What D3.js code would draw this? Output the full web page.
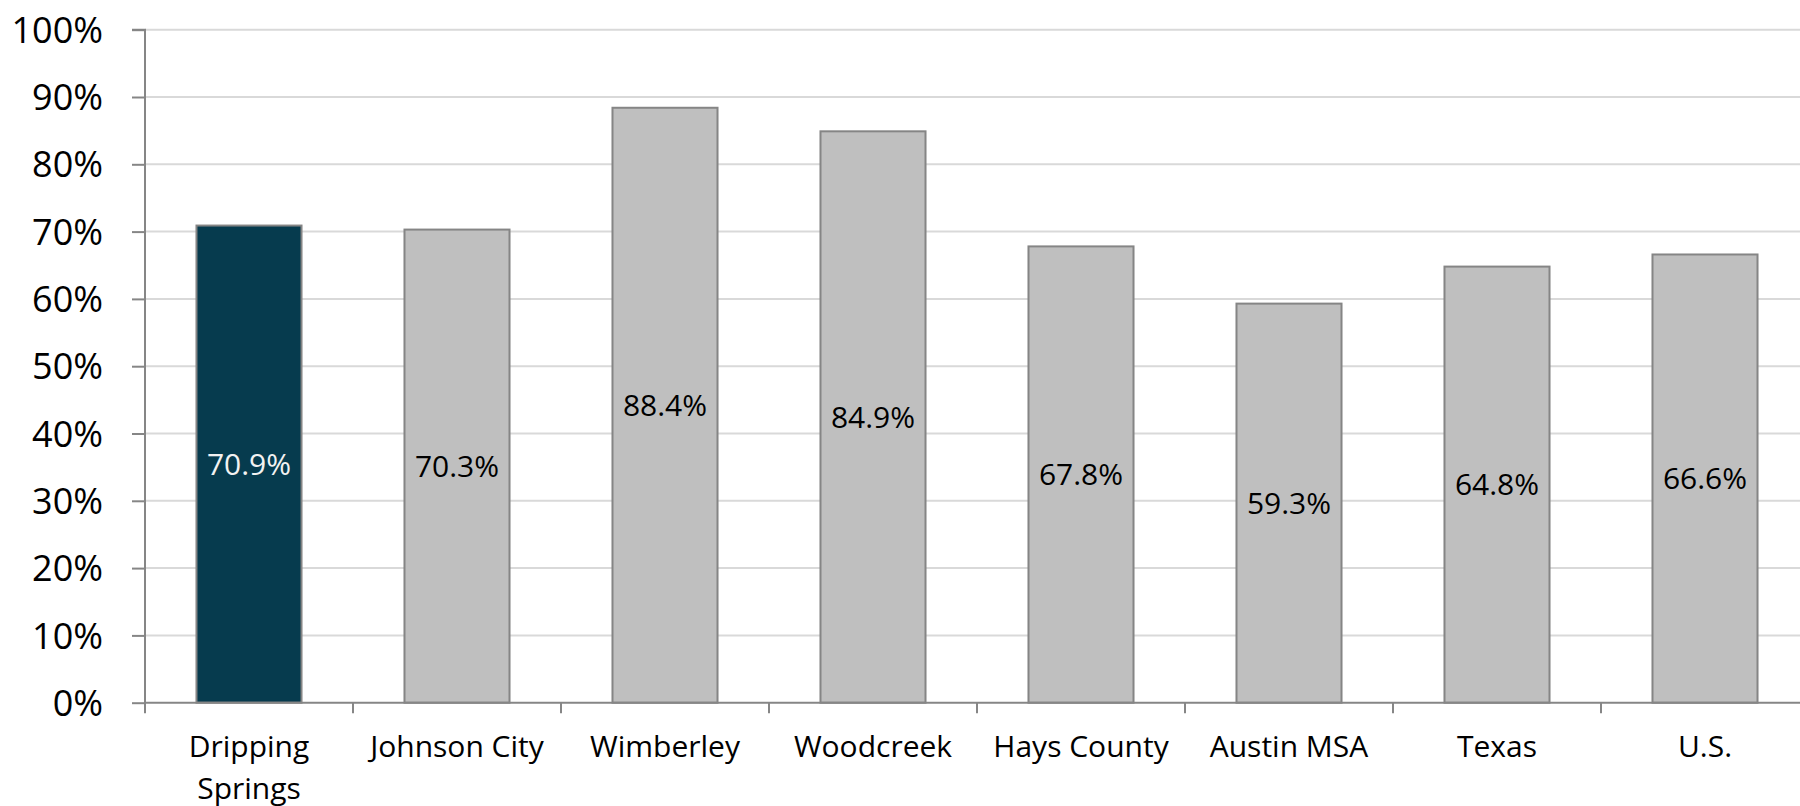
<!DOCTYPE html>
<html><head><meta charset="utf-8">
<script src="https://cdn.jsdelivr.net/npm/d3@7"></script>
<style>html,body{margin:0;padding:0;background:#fff;overflow:hidden}svg{display:block}</style>
</head><body>
<svg id="chart" width="1800" height="806"></svg>
<script>
const categories = ["Dripping Springs","Johnson City","Wimberley","Woodcreek","Hays County","Austin MSA","Texas","U.S."];
const categoryLines = [["Dripping","Springs"],["Johnson City"],["Wimberley"],["Woodcreek"],["Hays County"],["Austin MSA"],["Texas"],["U.S."]];
const values = [70.9, 70.3, 88.4, 84.9, 67.8, 59.3, 64.8, 66.6];
const yTicks = [0,10,20,30,40,50,60,70,80,90,100];
const highlight = "Dripping Springs";

const svg = d3.select("#chart");
const font = "'Open Sans', sans-serif";
const x = d3.scaleBand().domain(categories).range([145, 1809]).paddingInner(0.495).paddingOuter(0.2475);
const y = d3.scaleLinear().domain([0,100]).range([702.7, 29.7]);

// gridlines
svg.append("g").selectAll("line").data(yTicks.filter(d=>d>0)).join("line")
  .attr("x1",145).attr("x2",1800).attr("y1",d=>y(d)).attr("y2",d=>y(d))
  .attr("stroke","#d9d9d9").attr("stroke-width",2);

// bars
svg.append("g").selectAll("rect").data(categories).join("rect")
  .attr("x",d=>x(d)).attr("width",x.bandwidth())
  .attr("y",(d,i)=>y(values[i])).attr("height",(d,i)=>y(0)-y(values[i]))
  .attr("fill",d=>d===highlight?"#063b4e":"#bfbfbf")
  .attr("stroke","#858585").attr("stroke-width",2);

// y axis
const yAxis = d3.axisLeft(y).tickValues(yTicks).tickFormat(d=>d+"%").tickSize(13).tickPadding(29);
const ya = svg.append("g").attr("transform","translate(145,0)").call(yAxis);
ya.select(".domain").attr("stroke","#868686").attr("stroke-width",2).attr("d","M-13,29.7H0V713");
ya.selectAll(".tick line").attr("stroke","#868686").attr("stroke-width",2);
ya.selectAll(".tick text").attr("font-family",font).attr("font-size",36).attr("fill","#000").attr("dy","0.35em");

// x axis
const xa = svg.append("g").attr("transform",`translate(0,${y(0)})`);
xa.append("line").attr("x1",145).attr("x2",1800).attr("y1",0).attr("y2",0).attr("stroke","#868686").attr("stroke-width",2);
const step = x.step();
const bounds = d3.range(categories.length+1).map(i=>145+i*step);
xa.selectAll("line.tk").data(bounds).join("line").attr("class","tk")
  .attr("x1",d=>d).attr("x2",d=>d).attr("y1",0).attr("y2",10.5).attr("stroke","#868686").attr("stroke-width",2);
const lbl = xa.selectAll("text.cat").data(categories).join("text").attr("class","cat")
  .attr("x",d=>x(d)+x.bandwidth()/2).attr("y",54)
  .attr("text-anchor","middle").attr("font-family",font).attr("font-size",30).attr("fill","#000");
lbl.each(function(d,i){
  const t = d3.select(this);
  categoryLines[i].forEach((s,j)=>t.append("tspan").attr("x",x(d)+x.bandwidth()/2).attr("dy",j===0?0:42).text(s));
});

// data labels
svg.append("g").selectAll("text").data(categories).join("text")
  .attr("x",d=>x(d)+x.bandwidth()/2)
  .attr("y",(d,i)=>(y(values[i])+y(0))/2)
  .attr("dy","0.36em").attr("text-anchor","middle")
  .attr("font-family",font).attr("font-size",30)
  .attr("fill",d=>d===highlight?"#f2f2f2":"#000")
  .text((d,i)=>values[i].toFixed(1)+"%");
</script>
</body></html>
